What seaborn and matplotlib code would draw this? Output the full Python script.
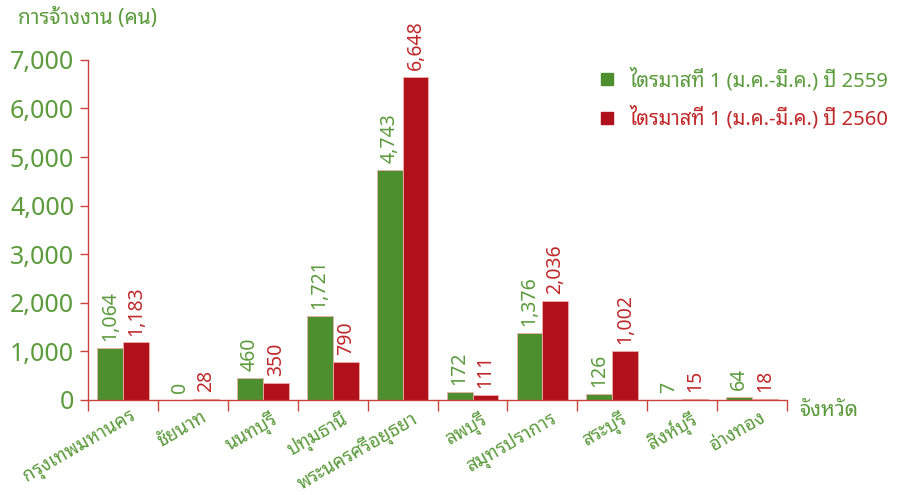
import matplotlib
matplotlib.use("Agg")
import matplotlib.pyplot as plt
import matplotlib.ticker as mticker
import matplotlib.transforms as mtrans
from matplotlib.lines import Line2D
import pandas as pd
import seaborn as sns

# ── Data ──────────────────────────────────────────────────────────────────────
provinces = ["กรุงเทพมหานคร", "ชัยนาท", "นนทบุรี", "ปทุมธานี", "พระนครศรีอยุธยา",
             "ลพบุรี", "สมุทรปราการ", "สระบุรี", "สิงห์บุรี", "อ่างทอง"]
q1_2559 = [1064, 0, 460, 1721, 4743, 172, 1376, 126, 7, 64]
q1_2560 = [1183, 28, 350, 790, 6648, 111, 2036, 1002, 15, 18]
series = ["ไตรมาสที่ 1 (ม.ค.-มี.ค.) ปี 2559", "ไตรมาสที่ 1 (ม.ค.-มี.ค.) ปี 2560"]
y_ticks = [0, 1000, 2000, 3000, 4000, 5000, 6000, 7000]

df = pd.DataFrame({
    "province": provinces * 2,
    "value": q1_2559 + q1_2560,
    "series": [series[0]] * len(provinces) + [series[1]] * len(provinces),
})

# ── Style ─────────────────────────────────────────────────────────────────────
GREEN = "#4d8f2e"
RED = "#b1111b"
TXT_GREEN = "#5b9b3c"
TXT_RED = "#c0282a"
AXIS = "#c9433a"

sns.set_style("white")
plt.rcParams["font.family"] = ["Noto Sans Thai Looped", "Noto Sans Thai",
                               "IBM Plex Sans Thai Looped", "IBM Plex Sans Thai",
                               "DejaVu Sans"]

fig = plt.figure(figsize=(9.02, 4.95), dpi=100)
ax = fig.add_axes([0.0976, 0.192, 0.775, 0.687])

sns.barplot(data=df, x="province", y="value", hue="series",
            palette=[GREEN, RED], width=0.74, saturation=1,
            edgecolor="#f0b0a8", linewidth=0.6, legend=False, ax=ax)

for cont, col in zip(ax.containers, [TXT_GREEN, TXT_RED]):
    ax.bar_label(cont, labels=[f"{v:,.0f}" for v in cont.datavalues],
                 rotation=90, padding=5, color=col, fontsize=14, clip_on=False)

ax.set_xlim(-0.5, len(provinces) - 0.5)
ax.set_ylim(0, 7000)
ax.set_yticks(y_ticks)
ax.yaxis.set_major_formatter(mticker.FuncFormatter(lambda v, _: f"{v:,.0f}"))
ax.tick_params(axis="y", colors=AXIS, labelcolor=TXT_GREEN, labelsize=18,
               length=6, width=1, direction="out", left=True, pad=4)

# category labels at centres, tick marks at group boundaries
ax.set_xticks(range(len(provinces)))
ax.set_xticklabels(provinces, rotation=30, ha="right", rotation_mode="anchor",
                   color=TXT_GREEN, fontsize=13.5)
ax.tick_params(axis="x", which="major", length=0, pad=6)
shift = mtrans.ScaledTranslation(8 / 100, 0, fig.dpi_scale_trans)
for lbl in ax.get_xticklabels():
    lbl.set_transform(lbl.get_transform() + shift)
ax.set_xticks([i - 0.5 for i in range(len(provinces) + 1)], minor=True)
ax.tick_params(axis="x", which="minor", length=8, width=1, colors=AXIS,
               direction="out", bottom=True)

for side in ["top", "right"]:
    ax.spines[side].set_visible(False)
for side in ["left", "bottom"]:
    ax.spines[side].set_color(AXIS)
    ax.spines[side].set_linewidth(1)

ax.set_xlabel("")
ax.set_ylabel("")
fig.text(0.02, 0.962, "การจ้างงาน (คน)", color=TXT_GREEN, fontsize=15,
         ha="left", va="center")
fig.text(0.886, 0.17, "จังหวัด", color=TXT_GREEN, fontsize=15,
         ha="left", va="center")

handles = [Line2D([], [], marker="s", linestyle="", color=c, markersize=9)
           for c in [GREEN, RED]]
fig.legend(handles, series, loc="upper right", bbox_to_anchor=(1.005, 0.9),
           frameon=False, fontsize=14.5, labelcolor=[TXT_GREEN, TXT_RED],
           handletextpad=0.5, labelspacing=0.75, handlelength=1.2)

fig.savefig("out.png", dpi=100, facecolor="white")
